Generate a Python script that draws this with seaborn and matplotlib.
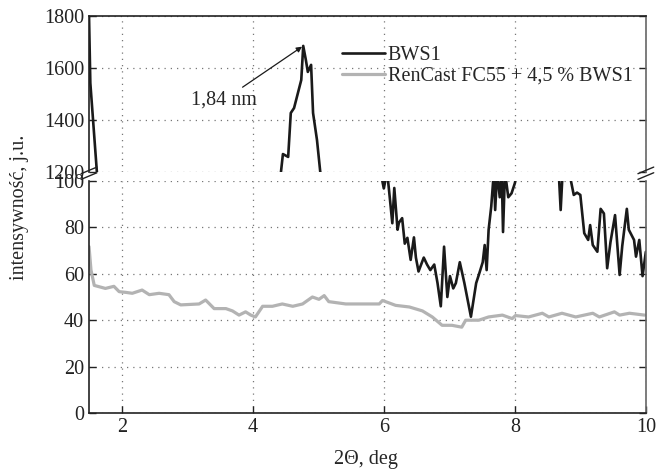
import numpy as np
import pandas as pd
import seaborn as sns
import matplotlib.pyplot as plt
from matplotlib.lines import Line2D

# BWS1 (black) - values between 100 and 1200 fall in the axis break
bws1_x = [1.50, 1.52, 1.62, 2.50, 4.00, 4.43, 4.46, 4.54, 4.58, 4.63, 4.74, 4.77,
          4.81, 4.84, 4.89, 4.92, 4.98, 5.03, 5.50, 5.95, 6.00, 6.05, 6.08, 6.13,
          6.16, 6.21, 6.23, 6.28, 6.32, 6.36, 6.41, 6.46, 6.49, 6.53, 6.61, 6.66,
          6.71, 6.77, 6.82, 6.87, 6.92, 6.97, 7.01, 7.06, 7.10, 7.16, 7.23, 7.33,
          7.41, 7.45, 7.51, 7.54, 7.57, 7.60, 7.64, 7.68, 7.70, 7.73, 7.77, 7.80,
          7.82, 7.85, 7.90, 7.95, 8.00, 8.04, 8.30, 8.67, 8.70, 8.73, 8.79, 8.85,
          8.90, 8.95, 9.00, 9.06, 9.12, 9.15, 9.19, 9.26, 9.31, 9.36, 9.41, 9.46,
          9.53, 9.60, 9.64, 9.71, 9.74, 9.82, 9.85, 9.90, 9.95, 10.0]
bws1_y = [1800, 1542, 1200, 600, 600, 1200, 1269, 1258, 1427, 1446, 1554, 1685,
          1631, 1585, 1612, 1427, 1323, 1200, 500, 104, 96.8, 104, 96, 81.8,
          97, 79, 82, 84, 73, 75.5, 66, 75.7, 67, 61, 67, 64,
          61.6, 64, 56, 46, 71.7, 50, 59, 53.7, 56, 65, 56, 41.5,
          56, 59.5, 65, 72.4, 61.6, 79, 89, 104, 87.5, 104, 93, 104,
          78, 104, 93, 94.7, 99, 104, 300, 104, 87.5, 104, 110, 101,
          94, 95, 94, 77.5, 74.6, 81, 72.4, 69.5, 88, 86, 62.4, 73.6,
          85.3, 59.5, 72, 88, 79, 74.6, 67.4, 74.6, 59, 69.5]

# RenCast FC55 + 4,5 % BWS1 (gray)
ren_x = [1.50, 1.53, 1.58, 1.75, 1.88, 1.96, 2.06, 2.16, 2.31, 2.42, 2.57, 2.72,
         2.80, 2.90, 3.18, 3.28, 3.41, 3.59, 3.69, 3.79, 3.89, 3.97, 4.04, 4.15,
         4.30, 4.45, 4.61, 4.76, 4.91, 5.01, 5.09, 5.16, 5.42, 5.67, 5.93, 5.98,
         6.18, 6.39, 6.59, 6.74, 6.89, 7.04, 7.19, 7.25, 7.45, 7.60, 7.81, 7.96,
         8.01, 8.21, 8.42, 8.52, 8.72, 8.93, 9.19, 9.29, 9.52, 9.60, 9.75, 9.98]
ren_y = [71.7, 61.6, 55, 53.7, 54.6, 52.3, 52, 51.6, 53, 51, 51.6, 51,
         48, 46.6, 47, 48.7, 45, 45, 44, 42.2, 43.6, 42.2, 41.4, 46,
         46, 47, 46, 47, 50, 49, 50.6, 48, 47, 47, 47, 48.5,
         46.4, 45.7, 44, 41.4, 37.8, 37.8, 37, 40, 40, 41.4, 42.2, 40.7,
         42, 41.4, 43, 41.4, 43, 41.4, 43, 41.4, 43.6, 42.2, 43, 42.2]

top_ticks = [1200, 1400, 1600, 1800]
bottom_ticks = [0, 20, 40, 60, 80, 100]
x_ticks = [2, 4, 6, 8, 10]

df_b = pd.DataFrame({"x": bws1_x, "y": bws1_y})
df_r = pd.DataFrame({"x": ren_x, "y": ren_y})

sns.set_style("ticks")
plt.rcParams["font.family"] = ["Liberation Serif", "DejaVu Serif"]
fs = 14.5
plt.rcParams["font.size"] = fs

fig = plt.figure(figsize=(6.57, 4.72), dpi=100)
ax_top = fig.add_axes([0.1355, 0.6356, 0.8475, 0.3305])
ax_bot = fig.add_axes([0.1355, 0.125, 0.8475, 0.4915])

black = "#1a1a1a"
gray = "#b3b3b3"

for ax in (ax_top, ax_bot):
    sns.lineplot(data=df_r, x="x", y="y", ax=ax, color=gray, linewidth=2.3,
                 sort=False, estimator=None)
    sns.lineplot(data=df_b, x="x", y="y", ax=ax, color=black, linewidth=1.9,
                 sort=False, estimator=None)
    ax.set_xlim(1.5, 10)
    ax.set_xticks(x_ticks)
    ax.set_xlabel("")
    ax.set_ylabel("")
    ax.grid(True, linestyle=(0, (1, 4)), color="#777777", linewidth=0.9)
    ax.tick_params(direction="in", length=5, width=1, right=True,
                   labelsize=fs, colors="#222222")
    for side in ("left", "bottom", "top"):
        ax.spines[side].set_color("#222222")
        ax.spines[side].set_linewidth(1.2)
    ax.spines["right"].set_color("#666666")
    ax.spines["right"].set_linewidth(1.2)

ax_top.set_ylim(1200, 1800)
ax_top.set_yticks(top_ticks)
ax_top.spines["bottom"].set_visible(False)
ax_top.tick_params(axis="x", bottom=False, labelbottom=False)

ax_bot.set_ylim(0, 100)
ax_bot.set_yticks(bottom_ticks)
ax_bot.spines["top"].set_visible(False)

# legend
handles = [Line2D([], [], color=black, linewidth=1.9),
           Line2D([], [], color=gray, linewidth=2.3)]
ax_top.legend(handles, ["BWS1", "RenCast FC55 + 4,5 % BWS1"],
              loc="upper left", bbox_to_anchor=(0.455, 0.81), frameon=False,
              borderpad=0, borderaxespad=0, handlelength=2.1,
              handletextpad=0.15, labelspacing=0.1, fontsize=fs)

# annotation
ax_top.annotate("1,84 nm", xy=(4.77, 1685), xytext=(4.06, 1477),
                ha="right", va="center", fontsize=fs,
                arrowprops=dict(arrowstyle="-|>", color=black, lw=0.9,
                                shrinkA=0, shrinkB=1, mutation_scale=8))

# break marks
for xf in (0.1355, 0.983):
    for dy in (0.0, 0.012):
        fig.add_artist(Line2D([xf - 0.012, xf + 0.012],
                              [0.620 + dy, 0.634 + dy],
                              transform=fig.transFigure, color="#222222",
                              linewidth=1.0))

fig.text(0.557, 0.027, "2Θ, deg", ha="center", va="center", fontsize=fs)
fig.text(0.029, 0.561, "intensywność, j.u.", rotation=90, ha="center",
         va="center", fontsize=fs)

fig.savefig("out.png", dpi=100)
